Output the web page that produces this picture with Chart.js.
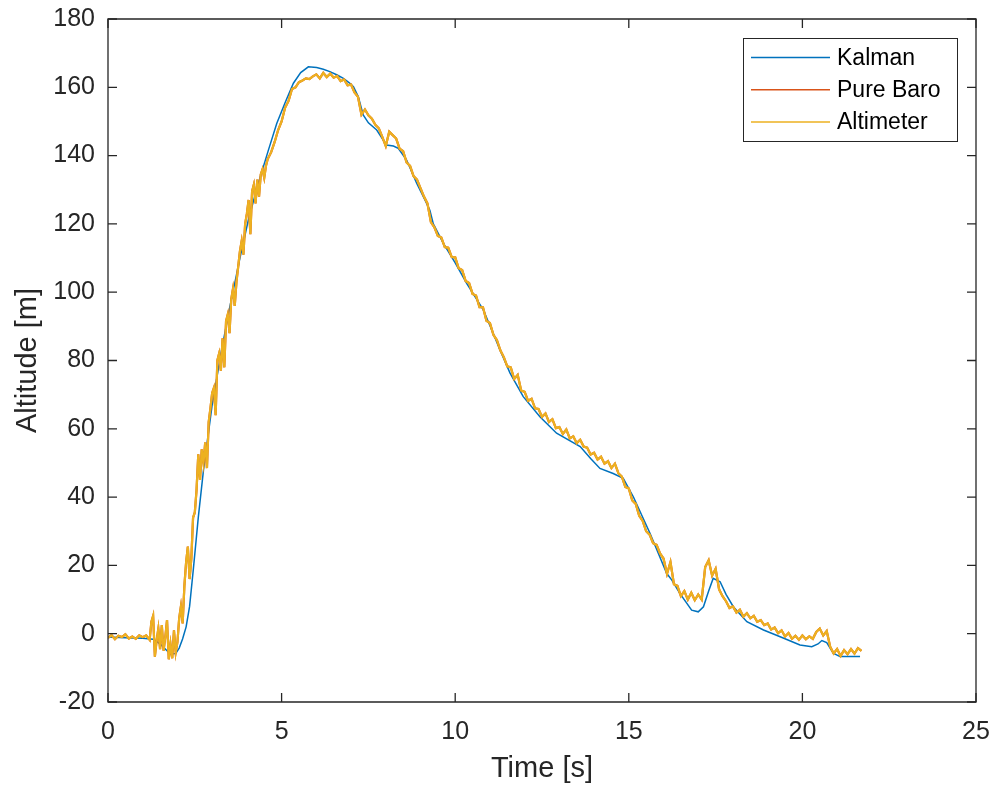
<!DOCTYPE html>
<html>
<head>
<meta charset="utf-8">
<title>Altitude vs Time</title>
<script src="https://cdn.jsdelivr.net/npm/chart.js@4.4.1/dist/chart.umd.min.js"></script>
<style>
    html, body { margin: 0; padding: 0; background: #fff; }
    .chart-box { width: 995px; height: 788px; position: relative; }
</style>
</head>
<body>
<div class="chart-box"><canvas id="altChart"></canvas></div>
<script>
/* ── Data ── */
const seriesLabels = ['Kalman', 'Pure Baro', 'Altimeter'];
const seriesColors = ['#0072BD', '#D95319', '#EDB120'];

const xTicks = [0, 5, 10, 15, 20, 25];
const yTicks = [-20, 0, 20, 40, 60, 80, 100, 120, 140, 160, 180];

// Kalman estimate: time [s] / altitude [m]
const kalmanTime = [
    0, 0.5, 1.0, 1.3, 1.5, 1.7, 1.8, 1.95, 2.05, 2.15, 2.25, 2.35, 2.46, 2.6, 2.75,
    3.0, 3.27, 3.51, 3.8, 4.05, 4.33, 4.62, 4.86, 5.1, 5.34, 5.55, 5.77, 6.01, 6.2,
    6.39, 6.6, 6.78, 6.95, 7.07, 7.21, 7.35, 7.5, 7.74, 8.02, 8.22, 8.36, 8.6, 8.89,
    9.1, 9.27, 9.37, 9.66, 10.0, 10.33, 10.81, 11.05, 11.29, 11.58, 11.96, 12.44,
    12.92, 13.6, 13.9, 14.17, 14.55, 14.84, 15.13, 15.61, 16.09, 16.24, 16.47, 16.81,
    17.0, 17.15, 17.3, 17.43, 17.63, 17.8, 18.01, 18.4, 18.88, 19.36, 19.93, 20.27,
    20.45, 20.56, 20.7, 20.89, 21.08, 21.66
];
const kalmanAlt = [
    -1.0, -1.2, -1.3, -1.6, -3.0, -5.0, -5.9, -5.8, -4.2, -1.5, 2.0, 8.0, 19.1, 34.0, 47.9,
    67.0, 83.0, 95.8, 110.0, 121.5, 131.9, 141.6, 149.4, 155.5, 161.2, 164.3, 166.0, 165.8, 165.3,
    164.6, 163.6, 162.6, 161.3, 160.2, 157.2, 151.9, 149.6, 147.5, 143.1, 142.8, 142.1, 138.7, 131.9,
    127.6, 124.0, 120.0, 114.3, 108.6, 102.6, 94.8, 89.0, 83.1, 76.3, 69.4, 63.5,
    58.7, 54.8, 51.3, 48.4, 46.9, 45.5, 40.1, 29.4, 17.7, 15.7, 11.8, 6.9,
    6.4, 7.9, 12.5, 16.2, 15.2, 11.5, 7.9, 3.5, 1.1, -0.9, -3.3, -3.8,
    -3.0, -2.0, -2.6, -5.7, -6.7, -6.7
];

// Altimeter samples (0.05 s during the noisy climb, 0.1 s elsewhere)
const altTime = [
    0.0, 0.1, 0.2, 0.3, 0.4, 0.5, 0.6, 0.7, 0.8, 0.9,
    1.0, 1.1,
    1.2, 1.25, 1.3, 1.35, 1.4, 1.45, 1.5, 1.55, 1.6, 1.65,
    1.7, 1.75, 1.8, 1.85, 1.9, 1.95, 2.0, 2.05, 2.1, 2.15,
    2.2, 2.25, 2.3, 2.35, 2.4, 2.45, 2.5, 2.55, 2.6, 2.65,
    2.7, 2.75, 2.8, 2.85, 2.9, 2.95, 3.0, 3.05, 3.1, 3.15,
    3.2, 3.25, 3.3, 3.35, 3.4, 3.45, 3.5, 3.55, 3.6, 3.65,
    3.7, 3.75, 3.8, 3.85, 3.9, 3.95, 4.0, 4.05, 4.1, 4.15,
    4.2, 4.25, 4.3, 4.35, 4.4, 4.45, 4.5, 4.55, 4.6,
    4.7, 4.8, 4.9,
    5.0, 5.1, 5.2, 5.3, 5.4, 5.5, 5.6, 5.7, 5.8, 5.9,
    6.0, 6.1, 6.2, 6.3, 6.4, 6.5, 6.6, 6.7, 6.8, 6.9,
    7.0, 7.1, 7.2, 7.3, 7.4, 7.5, 7.6, 7.7, 7.8, 7.9,
    8.0, 8.1, 8.2, 8.3, 8.4, 8.5, 8.6, 8.7, 8.8, 8.9,
    9.0, 9.1, 9.2, 9.3, 9.4, 9.5, 9.6, 9.7, 9.8, 9.9,
    10.0, 10.1, 10.2, 10.3, 10.4, 10.5, 10.6, 10.7, 10.8, 10.9,
    11.0, 11.1, 11.2, 11.3, 11.4, 11.5, 11.6, 11.7, 11.8, 11.9,
    12.0, 12.1, 12.2, 12.3, 12.4, 12.5, 12.6, 12.7, 12.8, 12.9,
    13.0, 13.1, 13.2, 13.3, 13.4, 13.5, 13.6, 13.7, 13.8, 13.9,
    14.0, 14.1, 14.2, 14.3, 14.4, 14.5, 14.6, 14.7, 14.8, 14.9,
    15.0, 15.1, 15.2, 15.3, 15.4, 15.5, 15.6, 15.7, 15.8, 15.9,
    16.0, 16.1, 16.2, 16.3, 16.4, 16.5, 16.6, 16.7, 16.8, 16.9,
    17.0, 17.1, 17.2, 17.3, 17.4, 17.5, 17.6, 17.7, 17.8, 17.9,
    18.0, 18.1, 18.2, 18.3, 18.4, 18.5, 18.6, 18.7, 18.8, 18.9,
    19.0, 19.1, 19.2, 19.3, 19.4, 19.5, 19.6, 19.7, 19.8, 19.9,
    20.0, 20.1, 20.2, 20.3, 20.4, 20.5, 20.6, 20.7, 20.8, 20.9,
    21.0, 21.1, 21.2, 21.3, 21.4, 21.5, 21.6, 21.7
];
const altimeterAlt = [
    -1.2, -0.4, -1.6, -0.6, -1.0, -0.2, -1.4, -0.8, -1.5, -0.5,
    -1.0, -0.5,
    -1.8, 3.5, 5.2, -6.7, -2.0, 1.5, -4.5, 2.5, -5.0, -1.0,
    4.0, -7.5, -3.0, -7.2, 1.0, -5.5, -2.5, 4.5, 8.0, 3.0,
    14.0, 21.0, 25.5, 16.0, 22.0, 34.0, 35.5, 42.0, 52.5, 45.0,
    54.0, 50.0, 56.0, 48.5, 62.0, 66.0, 70.5, 72.0, 64.0, 80.0,
    82.0, 77.0, 86.5, 78.0, 91.5, 93.5, 88.0, 98.0, 101.0, 96.0,
    103.0, 107.5, 112.0, 115.0, 111.0, 120.0, 123.0, 127.0, 117.0, 129.5,
    131.5, 126.0, 133.0, 128.0, 134.5, 136.0, 133.5, 137.0, 139.0,
    141.0, 144.0, 147.5,
    150.0, 154.0, 156.0, 159.5, 160.0, 161.5, 162.0, 162.6, 162.4, 163.2,
    163.8, 162.6, 164.2, 163.0, 164.0, 162.8, 163.3, 161.8, 162.3, 160.6,
    160.8, 158.5, 157.2, 152.0, 153.5, 151.8, 150.8, 149.0, 148.0, 145.5,
    142.8, 147.0, 146.0, 145.0, 142.0, 141.3, 138.0, 137.0, 134.0, 133.0,
    130.5, 128.0, 126.0, 120.5, 119.0, 116.5, 116.0, 113.2, 113.0, 110.3,
    110.2, 107.0, 106.5, 103.3, 102.7, 99.5, 99.0, 95.6, 95.6, 91.6,
    91.0, 87.5, 86.0, 83.0, 81.0, 78.3, 78.0, 74.6, 75.8, 71.2,
    70.8, 68.2, 68.8, 66.0, 65.8, 63.5, 64.5, 62.0, 62.8, 60.2,
    60.5, 58.5, 59.8, 57.2, 57.8, 55.8, 56.8, 54.8, 54.5, 52.5,
    53.0, 51.0, 51.8, 49.8, 50.5, 48.5, 49.8, 47.0, 46.0, 43.0,
    42.5, 39.0, 38.0, 34.5, 33.0, 30.0, 29.0, 26.5, 26.0, 23.5,
    22.0, 17.5, 21.0, 14.5, 14.0, 11.0, 12.5, 10.0, 12.0, 9.8,
    11.5, 10.0, 19.5, 21.5, 17.0, 19.0, 13.0, 11.0, 9.5, 7.5,
    8.0, 6.2, 7.0, 5.0, 6.0, 4.5, 5.2, 3.5, 4.0, 2.5,
    3.0, 1.2, 1.8, 0.2, 1.0, -0.8, 0.2, -1.5, -0.6, -1.8,
    -0.5, -1.6, -0.8, -1.5, 0.5, 1.5, -0.5, 0.8, -3.8, -5.8,
    -4.5, -6.5, -4.8, -6.0, -4.5, -5.8, -4.2, -5.0
];
// Pure barometric altitude sits under the altimeter trace
const pureBaroAlt = altimeterAlt.slice();

/* ── Styling ── */
const FONT = "'Liberation Sans', Arial, Helvetica, sans-serif";
const AXIS_COLOR = '#262626';

function toPoints(xs, ys) {
    return xs.map((x, i) => ({ x: x, y: ys[i] }));
}

/* Box, inward ticks and legend, MATLAB style */
const matlabAxes = {
    id: 'matlabAxes',
    afterDraw(chart) {
        const { ctx, chartArea: a, scales } = chart;
        const tickLen = 9;
        ctx.save();
        ctx.strokeStyle = AXIS_COLOR;
        ctx.lineWidth = 1.3;
        ctx.beginPath();
        ctx.rect(a.left, a.top, a.right - a.left, a.bottom - a.top);
        ctx.stroke();

        ctx.beginPath();
        scales.x.ticks.forEach(t => {
            const px = scales.x.getPixelForValue(t.value);
            ctx.moveTo(px, a.bottom); ctx.lineTo(px, a.bottom - tickLen);
            ctx.moveTo(px, a.top); ctx.lineTo(px, a.top + tickLen);
        });
        scales.y.ticks.forEach(t => {
            const py = scales.y.getPixelForValue(t.value);
            ctx.moveTo(a.left, py); ctx.lineTo(a.left + tickLen, py);
            ctx.moveTo(a.right, py); ctx.lineTo(a.right - tickLen, py);
        });
        ctx.stroke();

        // Legend
        const boxW = 214, boxH = 103;
        const bx = a.right - 19 - boxW;
        const by = a.top + 19;
        ctx.fillStyle = '#fff';
        ctx.fillRect(bx, by, boxW, boxH);
        ctx.lineWidth = 1;
        ctx.strokeStyle = AXIS_COLOR;
        ctx.strokeRect(bx + 0.5, by + 0.5, boxW, boxH);

        ctx.font = '23px ' + FONT;
        ctx.textBaseline = 'middle';
        ctx.textAlign = 'left';
        chart.data.datasets.forEach((ds, i) => {
            const y = by + 19.5 + i * 32.3;
            ctx.strokeStyle = ds.borderColor;
            ctx.lineWidth = 1.5;
            ctx.beginPath();
            ctx.moveTo(bx + 8, y);
            ctx.lineTo(bx + 87, y);
            ctx.stroke();
            ctx.fillStyle = '#000';
            ctx.fillText(ds.label, bx + 94, y + 1);
        });
        ctx.restore();
    }
};

document.addEventListener('DOMContentLoaded', () => {
    initAltitudeChart();
});

function initAltitudeChart() {
    const ctx = document.getElementById('altChart');
    if (!ctx) return;

    new Chart(ctx, {
        type: 'line',
        data: {
            datasets: [{
                label: seriesLabels[0],
                data: toPoints(kalmanTime, kalmanAlt),
                borderColor: seriesColors[0],
                borderWidth: 1.5,
                order: 3,
            }, {
                label: seriesLabels[1],
                data: toPoints(altTime, pureBaroAlt),
                borderColor: seriesColors[1],
                borderWidth: 2.2,
                order: 2,
            }, {
                label: seriesLabels[2],
                data: toPoints(altTime, altimeterAlt),
                borderColor: seriesColors[2],
                borderWidth: 2.2,
                order: 1,
            }]
        },
        options: {
            responsive: true,
            maintainAspectRatio: false,
            animation: false,
            layout: {
                padding: { top: 19, right: 19, left: 0, bottom: 0 }
            },
            elements: {
                point: { radius: 0, hoverRadius: 0 },
                line: { tension: 0, fill: false }
            },
            plugins: {
                legend: { display: false },
                tooltip: { enabled: false }
            },
            scales: {
                x: {
                    type: 'linear',
                    min: xTicks[0],
                    max: xTicks[xTicks.length - 1],
                    afterFit: (scale) => {
                        scale.height = 86;
                        scale.paddingLeft = 0;
                        scale.paddingRight = 0;
                    },
                    afterBuildTicks: (scale) => {
                        scale.ticks = xTicks.map(v => ({ value: v }));
                    },
                    grid: { display: false, drawTicks: false },
                    border: { display: false },
                    ticks: {
                        color: AXIS_COLOR,
                        padding: 15,
                        maxRotation: 0,
                        font: { family: FONT, size: 25 }
                    },
                    title: {
                        display: true,
                        text: 'Time [s]',
                        color: AXIS_COLOR,
                        padding: { top: 0, bottom: 2 },
                        font: { family: FONT, size: 29 }
                    }
                },
                y: {
                    type: 'linear',
                    min: yTicks[0],
                    max: yTicks[yTicks.length - 1],
                    afterFit: (scale) => {
                        scale.width = 108;
                        scale.paddingTop = 0;
                        scale.paddingBottom = 0;
                    },
                    afterBuildTicks: (scale) => {
                        scale.ticks = yTicks.map(v => ({ value: v }));
                    },
                    grid: { display: false, drawTicks: false },
                    border: { display: false },
                    ticks: {
                        color: AXIS_COLOR,
                        padding: 13,
                        font: { family: FONT, size: 25 }
                    },
                    title: {
                        display: true,
                        text: 'Altitude [m]',
                        color: AXIS_COLOR,
                        padding: { top: 11, bottom: 0 },
                        font: { family: FONT, size: 29 }
                    }
                }
            }
        },
        plugins: [matlabAxes]
    });
}
</script>
</body>
</html>
